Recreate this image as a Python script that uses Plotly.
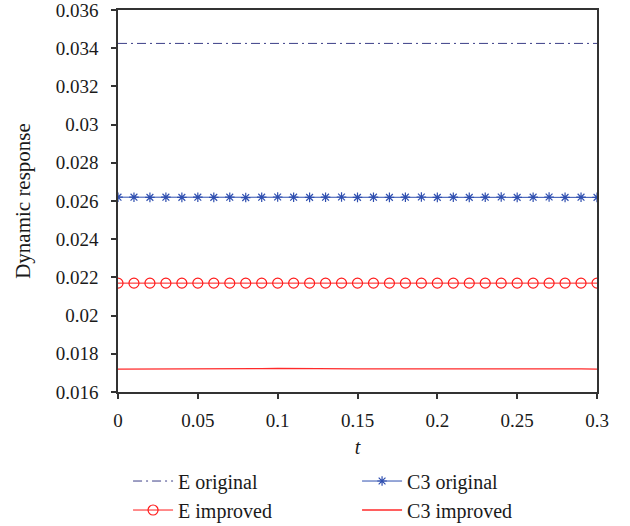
import plotly.graph_objects as go

t = [0.00, 0.01, 0.02, 0.03, 0.04, 0.05, 0.06, 0.07, 0.08, 0.09, 0.10,
     0.11, 0.12, 0.13, 0.14, 0.15, 0.16, 0.17, 0.18, 0.19, 0.20,
     0.21, 0.22, 0.23, 0.24, 0.25, 0.26, 0.27, 0.28, 0.29, 0.30]

e_original = [0.03425] * 31
c3_original = [0.02620, 0.02620, 0.02619, 0.02620, 0.02619, 0.02620, 0.02619, 0.02620, 0.02618, 0.02620, 0.02621,
               0.02620, 0.02619, 0.02620, 0.02621, 0.02619, 0.02620, 0.02619, 0.02620, 0.02621, 0.02619,
               0.02620, 0.02619, 0.02620, 0.02621, 0.02619, 0.02620, 0.02621, 0.02619, 0.02620, 0.02619]
e_improved = [0.02170] * 31
c3_improved = [0.01720, 0.01720, 0.01720, 0.01719, 0.01719, 0.01719, 0.01719, 0.01720, 0.01720, 0.01722, 0.01724,
               0.01723, 0.01721, 0.01721, 0.01722, 0.01721, 0.01721, 0.01721, 0.01721, 0.01721, 0.01721,
               0.01721, 0.01721, 0.01721, 0.01722, 0.01722, 0.01723, 0.01724, 0.01723, 0.01721, 0.01720]

x_ticks = [0, 0.05, 0.1, 0.15, 0.2, 0.25, 0.3]
x_ticklabels = ["0", "0.05", "0.1", "0.15", "0.2", "0.25", "0.3"]
y_ticks = [0.016, 0.018, 0.020, 0.022, 0.024, 0.026, 0.028, 0.030, 0.032, 0.034, 0.036]
y_ticklabels = ["0.016", "0.018", "0.02", "0.022", "0.024", "0.026", "0.028", "0.03", "0.032", "0.034", "0.036"]

FONT = "Liberation Serif"
TXT = "#1a1a1a"

fig = go.Figure()
fig.add_trace(go.Scatter(x=t, y=e_original, name="E original", mode="lines",
                         line=dict(color="#3c3f88", width=1, dash="9px,4px,2px,4px")))
fig.add_trace(go.Scatter(x=t, y=c3_original, name="C3 original", mode="lines+markers",
                         line=dict(color="#2f4fb0", width=1),
                         marker=dict(symbol="asterisk-open", size=8, color="#2f4fb0",
                                     line=dict(color="#2f4fb0", width=1.2))))
fig.add_trace(go.Scatter(x=t, y=e_improved, name="E improved", mode="lines+markers",
                         line=dict(color="#ff1a1a", width=1),
                         marker=dict(symbol="circle-open", size=10, color="#ff1a1a",
                                     line=dict(color="#ff1a1a", width=1.2))))
fig.add_trace(go.Scatter(x=t, y=c3_improved, name="C3 improved", mode="lines",
                         line=dict(color="#ff2a2a", width=1.3)))

axis_common = dict(showline=True, linecolor="#333333", linewidth=1.5, mirror=True,
                   ticks="outside", ticklen=5, tickwidth=1.5, tickcolor="#333333",
                   showgrid=False, zeroline=False, automargin=False,
                   ticklabeloverflow="allow",
                   tickfont=dict(family=FONT, size=19, color=TXT))

fig.update_xaxes(range=[0, 0.3], tickvals=x_ticks, ticktext=x_ticklabels, ticklabelstandoff=5,
                 title=dict(text="<i>t</i>", font=dict(family=FONT, size=20, color=TXT), standoff=10),
                 **axis_common)
fig.update_yaxes(range=[0.016, 0.036], tickvals=y_ticks, ticktext=y_ticklabels, ticklabelstandoff=9,
                 title=dict(text="Dynamic response", font=dict(family=FONT, size=21, color=TXT), standoff=19),
                 **axis_common)

fig.update_layout(
    width=630, height=526,
    margin=dict(l=118, r=33, t=10, b=134, autoexpand=False),
    plot_bgcolor="white", paper_bgcolor="white",
    font=dict(family=FONT, size=19, color=TXT),
    legend=dict(orientation="h", x=0.021, y=-0.182, xanchor="left", yanchor="top",
                entrywidth=174, entrywidthmode="pixels", tracegroupgap=0,
                font=dict(family=FONT, size=20, color=TXT), itemwidth=40),
)

fig.write_html("out.html", config={"displayModeBar": False},
               post_script="document.body.style.margin='0';document.body.style.overflow='hidden';")
